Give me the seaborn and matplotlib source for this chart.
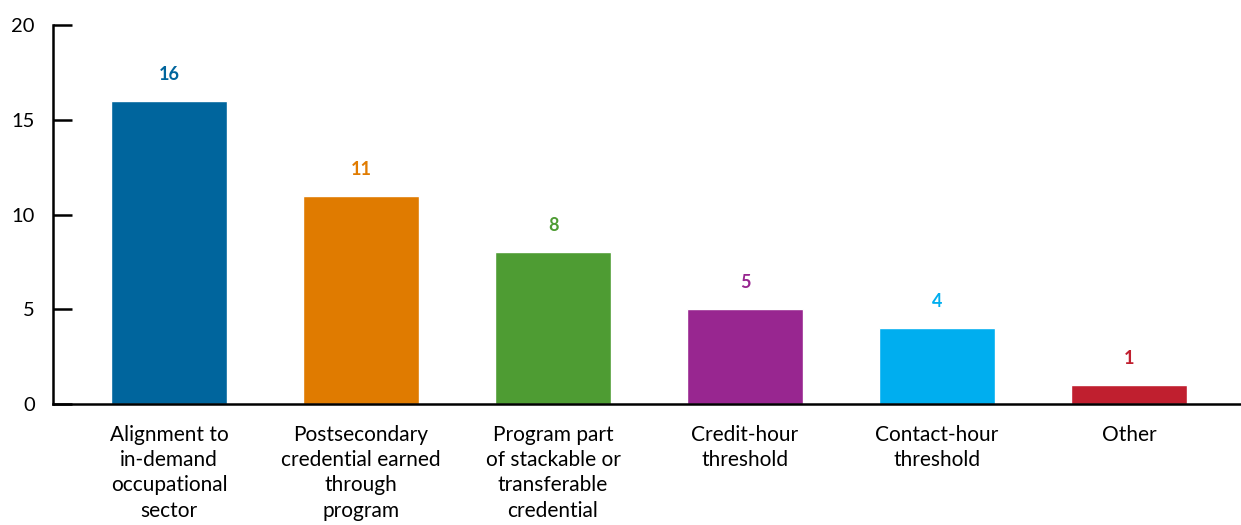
import matplotlib
matplotlib.use("Agg")
import matplotlib.pyplot as plt
import seaborn as sns
import pandas as pd

categories = [
    "Alignment to\nin-demand\noccupational\nsector",
    "Postsecondary\ncredential earned\nthrough\nprogram",
    "Program part\nof stackable or\ntransferable\ncredential",
    "Credit-hour\nthreshold",
    "Contact-hour\nthreshold",
    "Other",
]
counts = [16, 11, 8, 5, 4, 1]
colors = ["#00659d", "#e07b00", "#4e9c33", "#982690", "#00aeef", "#c01f2f"]
yticks = [0, 5, 10, 15, 20]

sns.set_theme(style="white")
plt.rcParams["font.family"] = ["Lato", "DejaVu Sans"]

df = pd.DataFrame({"category": categories, "count": counts})

fig = plt.figure(figsize=(12.41, 5.25), dpi=100)
ax = fig.add_axes([0.0427, 0.2305, 0.9573, 0.7215])

sns.barplot(data=df, x="category", y="count", hue="category",
            palette=colors, width=0.6, legend=False, saturation=1, ax=ax)

for container, col in zip(ax.containers, colors):
    ax.bar_label(container, padding=13, color=col, fontsize=13, fontweight="bold")

ax.set_xlim(-0.604, 5.583)
ax.set_ylim(0, 20)
ax.set_yticks(yticks)
ax.set_xlabel("")
ax.set_ylabel("")

sns.despine(ax=ax, top=True, right=True)
for side in ["left", "bottom"]:
    ax.spines[side].set_linewidth(1.8)
    ax.spines[side].set_color("black")

ax.tick_params(axis="y", direction="in", length=14, width=1.8, color="black",
               labelsize=14.5, pad=13, labelcolor="black", left=True)
ax.tick_params(axis="x", length=0, labelsize=15, pad=15, labelcolor="black")
for lbl in ax.get_xticklabels():
    lbl.set_linespacing(1.33)
    lbl.set_verticalalignment("top")

fig.savefig("out.png", dpi=100)
